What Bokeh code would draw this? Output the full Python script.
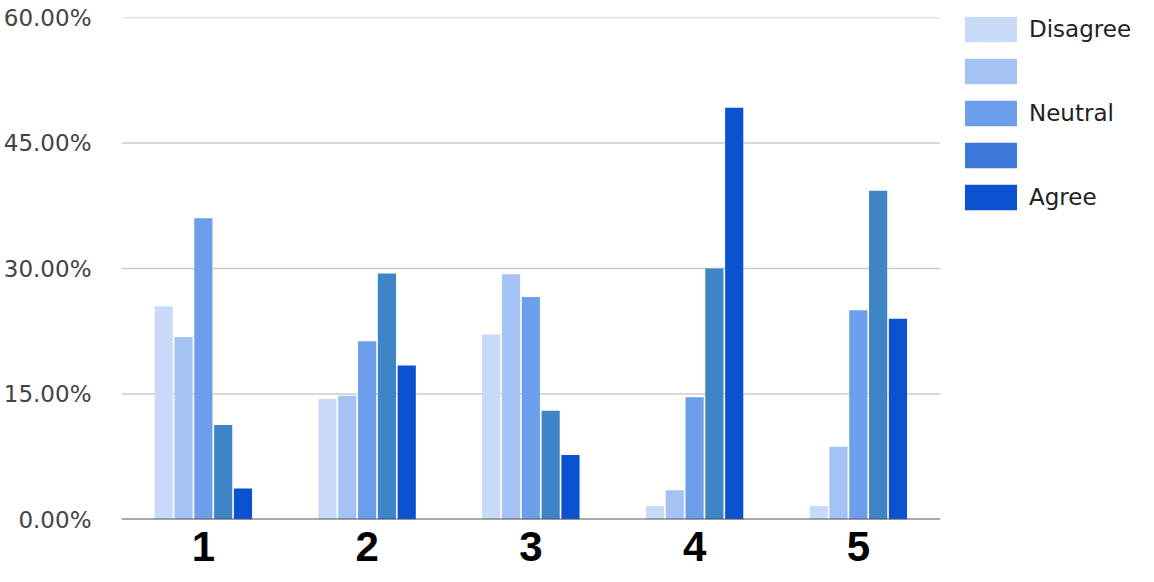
from bokeh.plotting import figure
from bokeh.models import (ColumnDataSource, FixedTicker, PrintfTickFormatter,
                          Legend, LegendItem, Range1d, CustomJSTickFormatter)
from bokeh.embed import file_html
from bokeh.resources import INLINE

categories = ["1", "2", "3", "4", "5"]
series_names = ["Disagree", "", "Neutral", "", "Agree"]
s1 = [25.5, 14.4, 22.1, 1.6, 1.6]
s2 = [21.8, 14.8, 29.3, 3.5, 8.7]
s3 = [36.0, 21.3, 26.6, 14.6, 25.0]
s4 = [11.3, 29.4, 13.0, 30.0, 39.3]
s5 = [3.7, 18.4, 7.7, 49.2, 24.0]
series = [s1, s2, s3, s4, s5]
y_ticks = [0, 15, 30, 45, 60]

bar_colors = ["#c9daf8", "#a4c2f4", "#6d9eeb", "#3d85c6", "#0b52d0"]
legend_colors = ["#c9daf8", "#a4c2f4", "#6d9eeb", "#3c78d8", "#0b52d0"]

n = len(categories)
x_lo, x_hi = 0.5, n + 0.5
# extra room on the right of the frame holds the legend
p = figure(width=1146, height=578, output_backend="svg", toolbar_location=None,
           x_range=Range1d(x_lo, 6.76), y_range=Range1d(0, 60),
           min_border_left=121, min_border_top=17, min_border_bottom=59,
           min_border_right=0)
p.outline_line_color = None
p.background_fill_color = "white"
p.border_fill_color = "white"
p.xgrid.grid_line_color = None
p.ygrid.grid_line_color = None

# grid lines limited to the category area
grid_y = [t for t in y_ticks if t != 0]
p.segment(x0=[x_lo] * len(grid_y), x1=[x_hi] * len(grid_y), y0=grid_y, y1=grid_y,
          line_color="#cccccc", line_width=1.5)

xs = list(range(1, n + 1))
slot = 0.121
for i, vals in enumerate(series):
    off = (i - 2) * slot
    src = ColumnDataSource(dict(x=[x + off for x in xs], top=vals))
    p.vbar(x="x", top="top", width=0.111, source=src, fill_color=bar_colors[i],
           line_color=None)

# baseline
p.segment(x0=[x_lo], x1=[x_hi], y0=[0], y1=[0], line_color="#555555", line_width=2)

# Legend-only renderers
items = []
for i, name in enumerate(series_names):
    r = p.vbar(x=[0], top=[0], width=0.0, fill_color=legend_colors[i], line_color=None)
    items.append(LegendItem(label=name if name else " ", renderers=[r]))

legend = Legend(items=items, location=(837, 306), orientation="vertical",
                glyph_width=65, glyph_height=32, spacing=10, label_standoff=6,
                label_text_font="DejaVu Sans", label_text_font_size="23px",
                label_text_color="#222222", padding=0, margin=0,
                border_line_color=None, background_fill_alpha=0)
p.add_layout(legend, "center")

# Axes
p.yaxis.ticker = FixedTicker(ticks=y_ticks)
p.yaxis.formatter = PrintfTickFormatter(format="%.2f%%")
p.yaxis.axis_line_color = None
p.yaxis.major_tick_line_color = None
p.yaxis.minor_tick_line_color = None
p.yaxis.major_label_text_font = "DejaVu Sans"
p.yaxis.major_label_text_font_size = "23px"
p.yaxis.major_label_text_color = "#444444"
p.yaxis.major_label_standoff = 24

p.xaxis.ticker = FixedTicker(ticks=xs)
p.xaxis.formatter = CustomJSTickFormatter(args=dict(labels=categories),
                                          code="return labels[Math.round(tick) - 1];")
p.xaxis.axis_line_color = None
p.xaxis.major_tick_line_color = None
p.xaxis.minor_tick_line_color = None
p.xaxis.major_label_text_font = "Liberation Sans"
p.xaxis.major_label_text_font_size = "42px"
p.xaxis.major_label_text_font_style = "bold"
p.xaxis.major_label_text_color = "#000000"
p.xaxis.major_label_standoff = 6

open("out.html", "w").write(file_html(p, INLINE))
